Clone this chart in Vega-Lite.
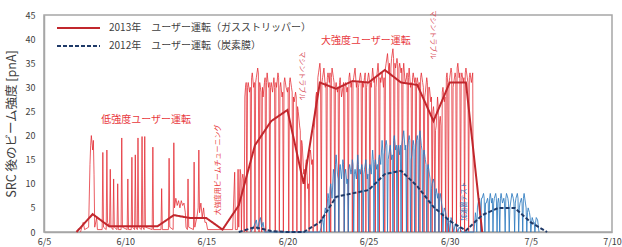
{
"$schema": "https://vega.github.io/schema/vega-lite/v6.json",
"width": 568, "height": 217,
"autosize": "none",
"padding": {"left": 44, "top": 15, "right": 10, "bottom": 15},
"config": {"font": "Noto Sans CJK JP", "view": {"stroke": "#a6a6a6", "strokeWidth": 1.5}},
"datasets": {
"raw13": [
{"t":"2013-06-07T06:00","v":0},{"t":"2013-06-07T10:00","v":2},{"t":"2013-06-07T12:00","v":0.5},{"t":"2013-06-07T18:00","v":1},{"t":"2013-06-07T20:00","v":14},{"t":"2013-06-07T21:00","v":18},{"t":"2013-06-07T22:00","v":20},{"t":"2013-06-08T00:00","v":17},{"t":"2013-06-08T01:00","v":19},{"t":"2013-06-08T02:00","v":12},{"t":"2013-06-08T03:00","v":1},{"t":"2013-06-08T06:00","v":3},{"t":"2013-06-08T07:00","v":0.5},{"t":"2013-06-08T14:00","v":0.5},{"t":"2013-06-08T15:00","v":16.5},{"t":"2013-06-08T16:00","v":1},{"t":"2013-06-08T20:00","v":0.5},{"t":"2013-06-08T21:00","v":17},{"t":"2013-06-08T22:00","v":2},{"t":"2013-06-09T01:00","v":1},{"t":"2013-06-09T02:00","v":13},{"t":"2013-06-09T03:00","v":1},{"t":"2013-06-09T06:00","v":0.5},{"t":"2013-06-09T07:00","v":11},{"t":"2013-06-09T08:00","v":1},{"t":"2013-06-09T12:00","v":0.5},{"t":"2013-06-09T13:00","v":10},{"t":"2013-06-09T14:00","v":0.5},{"t":"2013-06-09T18:00","v":0.5},{"t":"2013-06-09T19:00","v":19.5},{"t":"2013-06-09T20:00","v":1},{"t":"2013-06-10T03:00","v":0.5},{"t":"2013-06-10T04:00","v":11},{"t":"2013-06-10T05:00","v":0.5},{"t":"2013-06-10T09:00","v":0.5},{"t":"2013-06-10T10:00","v":15.5},{"t":"2013-06-10T11:00","v":1},{"t":"2013-06-10T14:00","v":0.5},{"t":"2013-06-10T15:00","v":16},{"t":"2013-06-10T16:00","v":1},{"t":"2013-06-10T18:00","v":0.5},{"t":"2013-06-10T19:00","v":19.5},{"t":"2013-06-10T20:00","v":1},{"t":"2013-06-11T00:00","v":0.5},{"t":"2013-06-11T01:00","v":19.8},{"t":"2013-06-11T02:00","v":1},{"t":"2013-06-11T04:00","v":0.5},{"t":"2013-06-11T05:00","v":19.8},{"t":"2013-06-11T06:00","v":1},{"t":"2013-06-11T16:00","v":0.5},{"t":"2013-06-11T17:00","v":17.6},{"t":"2013-06-11T18:00","v":0.5},{"t":"2013-06-12T05:00","v":0.5},{"t":"2013-06-12T06:00","v":9},{"t":"2013-06-12T07:00","v":0.5},{"t":"2013-06-12T16:00","v":0.5},{"t":"2013-06-12T17:00","v":15.3},{"t":"2013-06-12T18:00","v":1},{"t":"2013-06-12T23:00","v":0.5},{"t":"2013-06-13T00:00","v":18.5},{"t":"2013-06-13T01:00","v":5},{"t":"2013-06-13T03:00","v":7},{"t":"2013-06-13T05:00","v":5.5},{"t":"2013-06-13T07:00","v":6.5},{"t":"2013-06-13T09:00","v":5},{"t":"2013-06-13T11:00","v":6.5},{"t":"2013-06-13T13:00","v":5.5},{"t":"2013-06-13T15:00","v":6},{"t":"2013-06-13T17:00","v":4},{"t":"2013-06-13T18:00","v":1},{"t":"2013-06-13T20:00","v":0.5},{"t":"2013-06-13T21:00","v":11},{"t":"2013-06-13T22:00","v":1},{"t":"2013-06-14T05:00","v":0.5},{"t":"2013-06-14T06:00","v":14.5},{"t":"2013-06-14T07:00","v":1},{"t":"2013-06-14T10:00","v":3},{"t":"2013-06-14T12:00","v":5},{"t":"2013-06-14T13:00","v":17},{"t":"2013-06-14T14:00","v":4},{"t":"2013-06-14T16:00","v":6},{"t":"2013-06-14T18:00","v":3},{"t":"2013-06-14T20:00","v":5},{"t":"2013-06-14T22:00","v":2},{"t":"2013-06-15T00:00","v":2},{"t":"2013-06-15T02:00","v":0.5},{"t":"2013-06-16T15:00","v":0.5},{"t":"2013-06-16T18:00","v":12.4},{"t":"2013-06-16T19:00","v":0.5},{"t":"2013-06-16T22:00","v":0.5},{"t":"2013-06-16T23:00","v":13},{"t":"2013-06-17T00:00","v":1},
{"t":"2013-06-17T02:00","v":13},{"t":"2013-06-17T03:00","v":12},{"t":"2013-06-17T04:00","v":0},{"t":"2013-06-17T05:00","v":11},{"t":"2013-06-17T06:00","v":12},{"t":"2013-06-17T07:00","v":11},{"t":"2013-06-17T08:00","v":0},{"t":"2013-06-17T09:00","v":28},{"t":"2013-06-17T10:00","v":30},{"t":"2013-06-17T11:00","v":31},{"t":"2013-06-17T12:00","v":0},{"t":"2013-06-17T13:00","v":30},{"t":"2013-06-17T14:00","v":31},{"t":"2013-06-17T16:00","v":29},{"t":"2013-06-17T17:00","v":30},{"t":"2013-06-17T18:00","v":0},{"t":"2013-06-17T19:00","v":32},{"t":"2013-06-17T20:00","v":33},{"t":"2013-06-17T22:00","v":30},{"t":"2013-06-17T23:00","v":31},
{"t":"2013-06-18T00:00","v":0},{"t":"2013-06-18T01:00","v":31},{"t":"2013-06-18T02:00","v":32},{"t":"2013-06-18T04:00","v":34},{"t":"2013-06-18T05:00","v":33},{"t":"2013-06-18T06:00","v":0},{"t":"2013-06-18T07:00","v":31},{"t":"2013-06-18T08:00","v":30},{"t":"2013-06-18T09:00","v":29},{"t":"2013-06-18T10:00","v":0},{"t":"2013-06-18T11:00","v":30},{"t":"2013-06-18T12:00","v":28},{"t":"2013-06-18T14:00","v":31},{"t":"2013-06-18T15:00","v":32},{"t":"2013-06-18T16:00","v":0},{"t":"2013-06-18T17:00","v":31},{"t":"2013-06-18T18:00","v":33},{"t":"2013-06-18T20:00","v":30},{"t":"2013-06-18T21:00","v":31},{"t":"2013-06-18T22:00","v":0},{"t":"2013-06-18T23:00","v":30},
{"t":"2013-06-19T00:00","v":31},{"t":"2013-06-19T02:00","v":29},{"t":"2013-06-19T04:00","v":32},{"t":"2013-06-19T05:00","v":30},{"t":"2013-06-19T06:00","v":0},{"t":"2013-06-19T07:00","v":31},{"t":"2013-06-19T08:00","v":30},{"t":"2013-06-19T10:00","v":33},{"t":"2013-06-19T11:00","v":32},{"t":"2013-06-19T12:00","v":0},{"t":"2013-06-19T13:00","v":30},{"t":"2013-06-19T14:00","v":31},{"t":"2013-06-19T16:00","v":28},{"t":"2013-06-19T17:00","v":29},{"t":"2013-06-19T18:00","v":0},{"t":"2013-06-19T19:00","v":31},{"t":"2013-06-19T20:00","v":32},{"t":"2013-06-19T22:00","v":30},
{"t":"2013-06-20T00:00","v":29},{"t":"2013-06-20T01:00","v":30},{"t":"2013-06-20T02:00","v":0},{"t":"2013-06-20T03:00","v":31},{"t":"2013-06-20T04:00","v":32},{"t":"2013-06-20T06:00","v":30},{"t":"2013-06-20T07:00","v":29},{"t":"2013-06-20T08:00","v":0},{"t":"2013-06-20T09:00","v":28},{"t":"2013-06-20T10:00","v":27},{"t":"2013-06-20T12:00","v":29},{"t":"2013-06-20T13:00","v":28},{"t":"2013-06-20T14:00","v":0},{"t":"2013-06-20T15:00","v":26},{"t":"2013-06-20T16:00","v":25},{"t":"2013-06-20T18:00","v":22},{"t":"2013-06-20T19:00","v":21},{"t":"2013-06-20T20:00","v":0},{"t":"2013-06-20T21:00","v":19},{"t":"2013-06-20T22:00","v":18},
{"t":"2013-06-21T00:00","v":12},{"t":"2013-06-21T01:00","v":13},{"t":"2013-06-21T02:00","v":0},{"t":"2013-06-21T03:00","v":14},{"t":"2013-06-21T04:00","v":15},{"t":"2013-06-21T06:00","v":9},{"t":"2013-06-21T07:00","v":10},{"t":"2013-06-21T08:00","v":0},{"t":"2013-06-21T09:00","v":16},{"t":"2013-06-21T10:00","v":17},{"t":"2013-06-21T12:00","v":14},{"t":"2013-06-21T13:00","v":15},{"t":"2013-06-21T14:00","v":0},{"t":"2013-06-21T15:00","v":21},{"t":"2013-06-21T16:00","v":22},{"t":"2013-06-21T18:00","v":28},{"t":"2013-06-21T19:00","v":29},{"t":"2013-06-21T20:00","v":0},{"t":"2013-06-21T21:00","v":32},{"t":"2013-06-21T22:00","v":33},
{"t":"2013-06-22T00:00","v":35},{"t":"2013-06-22T01:00","v":33},{"t":"2013-06-22T02:00","v":0},{"t":"2013-06-22T03:00","v":31},{"t":"2013-06-22T04:00","v":32},{"t":"2013-06-22T06:00","v":34},{"t":"2013-06-22T08:00","v":30},{"t":"2013-06-22T09:00","v":31},{"t":"2013-06-22T10:00","v":0},{"t":"2013-06-22T11:00","v":32},{"t":"2013-06-22T12:00","v":33},{"t":"2013-06-22T14:00","v":31},{"t":"2013-06-22T15:00","v":33},{"t":"2013-06-22T16:00","v":0},{"t":"2013-06-22T17:00","v":32},{"t":"2013-06-22T18:00","v":34},{"t":"2013-06-22T20:00","v":32},{"t":"2013-06-22T21:00","v":31},{"t":"2013-06-22T22:00","v":0},{"t":"2013-06-22T23:00","v":30},
{"t":"2013-06-23T00:00","v":31},{"t":"2013-06-23T02:00","v":29},{"t":"2013-06-23T03:00","v":30},{"t":"2013-06-23T04:00","v":0},{"t":"2013-06-23T05:00","v":31},{"t":"2013-06-23T06:00","v":32},{"t":"2013-06-23T08:00","v":28},{"t":"2013-06-23T10:00","v":30},{"t":"2013-06-23T11:00","v":31},{"t":"2013-06-23T12:00","v":0},{"t":"2013-06-23T13:00","v":30},{"t":"2013-06-23T14:00","v":31},{"t":"2013-06-23T16:00","v":29},{"t":"2013-06-23T17:00","v":30},{"t":"2013-06-23T18:00","v":0},{"t":"2013-06-23T19:00","v":32},{"t":"2013-06-23T20:00","v":33},{"t":"2013-06-23T22:00","v":30},{"t":"2013-06-23T23:00","v":31},
{"t":"2013-06-24T00:00","v":0},{"t":"2013-06-24T01:00","v":31},{"t":"2013-06-24T02:00","v":32},{"t":"2013-06-24T04:00","v":34},{"t":"2013-06-24T06:00","v":30},{"t":"2013-06-24T07:00","v":31},{"t":"2013-06-24T08:00","v":0},{"t":"2013-06-24T09:00","v":30},{"t":"2013-06-24T10:00","v":31},{"t":"2013-06-24T12:00","v":33},{"t":"2013-06-24T13:00","v":32},{"t":"2013-06-24T14:00","v":0},{"t":"2013-06-24T15:00","v":31},{"t":"2013-06-24T16:00","v":30},{"t":"2013-06-24T18:00","v":32},{"t":"2013-06-24T19:00","v":33},{"t":"2013-06-24T20:00","v":0},{"t":"2013-06-24T21:00","v":30},{"t":"2013-06-24T22:00","v":31},
{"t":"2013-06-25T00:00","v":33},{"t":"2013-06-25T01:00","v":32},{"t":"2013-06-25T02:00","v":0},{"t":"2013-06-25T03:00","v":31},{"t":"2013-06-25T04:00","v":30},{"t":"2013-06-25T06:00","v":34},{"t":"2013-06-25T08:00","v":31},{"t":"2013-06-25T09:00","v":32},{"t":"2013-06-25T10:00","v":0},{"t":"2013-06-25T11:00","v":30},{"t":"2013-06-25T12:00","v":32},{"t":"2013-06-25T14:00","v":35},{"t":"2013-06-25T15:00","v":33},{"t":"2013-06-25T16:00","v":0},{"t":"2013-06-25T17:00","v":32},{"t":"2013-06-25T18:00","v":31},{"t":"2013-06-25T20:00","v":33},{"t":"2013-06-25T22:00","v":30},{"t":"2013-06-25T23:00","v":32},
{"t":"2013-06-26T00:00","v":0},{"t":"2013-06-26T01:00","v":34},{"t":"2013-06-26T02:00","v":35},{"t":"2013-06-26T04:00","v":37},{"t":"2013-06-26T06:00","v":33},{"t":"2013-06-26T07:00","v":35},{"t":"2013-06-26T08:00","v":0},{"t":"2013-06-26T09:00","v":34},{"t":"2013-06-26T10:00","v":36},{"t":"2013-06-26T12:00","v":38},{"t":"2013-06-26T13:00","v":36},{"t":"2013-06-26T14:00","v":0},{"t":"2013-06-26T15:00","v":35},{"t":"2013-06-26T16:00","v":34},{"t":"2013-06-26T18:00","v":36},{"t":"2013-06-26T19:00","v":35},{"t":"2013-06-26T20:00","v":0},{"t":"2013-06-26T21:00","v":34},{"t":"2013-06-26T22:00","v":35},
{"t":"2013-06-27T00:00","v":33},{"t":"2013-06-27T01:00","v":34},{"t":"2013-06-27T02:00","v":0},{"t":"2013-06-27T03:00","v":33},{"t":"2013-06-27T04:00","v":35},{"t":"2013-06-27T06:00","v":31},{"t":"2013-06-27T08:00","v":32},{"t":"2013-06-27T09:00","v":33},{"t":"2013-06-27T10:00","v":0},{"t":"2013-06-27T11:00","v":32},{"t":"2013-06-27T12:00","v":34},{"t":"2013-06-27T14:00","v":30},{"t":"2013-06-27T15:00","v":31},{"t":"2013-06-27T16:00","v":0},{"t":"2013-06-27T17:00","v":32},{"t":"2013-06-27T18:00","v":33},{"t":"2013-06-27T20:00","v":31},{"t":"2013-06-27T21:00","v":32},{"t":"2013-06-27T22:00","v":0},{"t":"2013-06-27T23:00","v":31},
{"t":"2013-06-28T00:00","v":32},{"t":"2013-06-28T02:00","v":30},{"t":"2013-06-28T03:00","v":31},{"t":"2013-06-28T04:00","v":0},{"t":"2013-06-28T05:00","v":32},{"t":"2013-06-28T06:00","v":33},{"t":"2013-06-28T08:00","v":31},{"t":"2013-06-28T09:00","v":30},{"t":"2013-06-28T10:00","v":0},{"t":"2013-06-28T11:00","v":28},{"t":"2013-06-28T12:00","v":29},{"t":"2013-06-28T14:00","v":32},{"t":"2013-06-28T15:00","v":31},{"t":"2013-06-28T16:00","v":0},{"t":"2013-06-28T17:00","v":30},{"t":"2013-06-28T18:00","v":30},{"t":"2013-06-28T20:00","v":27},{"t":"2013-06-28T21:00","v":28},{"t":"2013-06-28T22:00","v":0},{"t":"2013-06-28T23:00","v":25},
{"t":"2013-06-29T00:00","v":26},{"t":"2013-06-29T01:00","v":24},{"t":"2013-06-29T02:00","v":0},{"t":"2013-06-29T03:00","v":21},{"t":"2013-06-29T04:00","v":22},{"t":"2013-06-29T06:00","v":28},{"t":"2013-06-29T07:00","v":26},{"t":"2013-06-29T08:00","v":0},{"t":"2013-06-29T09:00","v":23},{"t":"2013-06-29T10:00","v":24},{"t":"2013-06-29T11:00","v":22},{"t":"2013-06-29T12:00","v":0},{"t":"2013-06-29T13:00","v":29},{"t":"2013-06-29T14:00","v":30},{"t":"2013-06-29T16:00","v":27},{"t":"2013-06-29T17:00","v":28},{"t":"2013-06-29T18:00","v":0},{"t":"2013-06-29T19:00","v":32},{"t":"2013-06-29T20:00","v":33},{"t":"2013-06-29T21:00","v":31},{"t":"2013-06-29T22:00","v":0},{"t":"2013-06-29T23:00","v":31},
{"t":"2013-06-30T00:00","v":32},{"t":"2013-06-30T02:00","v":34},{"t":"2013-06-30T03:00","v":33},{"t":"2013-06-30T04:00","v":0},{"t":"2013-06-30T05:00","v":30},{"t":"2013-06-30T06:00","v":31},{"t":"2013-06-30T08:00","v":33},{"t":"2013-06-30T09:00","v":32},{"t":"2013-06-30T10:00","v":0},{"t":"2013-06-30T11:00","v":34},{"t":"2013-06-30T12:00","v":35},{"t":"2013-06-30T14:00","v":32},{"t":"2013-06-30T15:00","v":33},{"t":"2013-06-30T16:00","v":0},{"t":"2013-06-30T17:00","v":32},{"t":"2013-06-30T18:00","v":33},{"t":"2013-06-30T20:00","v":31},{"t":"2013-06-30T21:00","v":32},{"t":"2013-06-30T22:00","v":0},{"t":"2013-06-30T23:00","v":33},
{"t":"2013-07-01T00:00","v":34},{"t":"2013-07-01T02:00","v":32},{"t":"2013-07-01T03:00","v":31},{"t":"2013-07-01T04:00","v":0},{"t":"2013-07-01T05:00","v":32},{"t":"2013-07-01T06:00","v":33},{"t":"2013-07-01T08:00","v":31},{"t":"2013-07-01T10:00","v":33},{"t":"2013-07-01T11:00","v":0}
],
"raw12": [
{"t":"2013-06-17T18:00","v":0},{"t":"2013-06-17T22:00","v":1},{"t":"2013-06-18T02:00","v":2.5},{"t":"2013-06-18T04:00","v":0.5},{"t":"2013-06-18T06:00","v":2},{"t":"2013-06-18T08:00","v":3},{"t":"2013-06-18T10:00","v":1},{"t":"2013-06-18T12:00","v":2},{"t":"2013-06-18T14:00","v":0},{"t":"2013-06-22T00:00","v":0},
{"t":"2013-06-22T02:00","v":1},{"t":"2013-06-22T04:00","v":3},{"t":"2013-06-22T05:00","v":2},{"t":"2013-06-22T06:00","v":0},{"t":"2013-06-22T07:00","v":4},{"t":"2013-06-22T08:00","v":5},{"t":"2013-06-22T10:00","v":4},{"t":"2013-06-22T12:00","v":8},{"t":"2013-06-22T13:00","v":7},{"t":"2013-06-22T14:00","v":0},{"t":"2013-06-22T15:00","v":9},{"t":"2013-06-22T16:00","v":10},{"t":"2013-06-22T18:00","v":7},{"t":"2013-06-22T20:00","v":13},{"t":"2013-06-22T21:00","v":12},{"t":"2013-06-22T22:00","v":0},{"t":"2013-06-22T23:00","v":14},
{"t":"2013-06-23T00:00","v":16},{"t":"2013-06-23T02:00","v":12},{"t":"2013-06-23T03:00","v":11},{"t":"2013-06-23T04:00","v":0},{"t":"2013-06-23T05:00","v":13},{"t":"2013-06-23T06:00","v":14},{"t":"2013-06-23T08:00","v":11},{"t":"2013-06-23T10:00","v":15},{"t":"2013-06-23T11:00","v":14},{"t":"2013-06-23T12:00","v":0},{"t":"2013-06-23T13:00","v":12},{"t":"2013-06-23T14:00","v":13},{"t":"2013-06-23T16:00","v":10},{"t":"2013-06-23T17:00","v":11},{"t":"2013-06-23T18:00","v":0},{"t":"2013-06-23T19:00","v":13},{"t":"2013-06-23T20:00","v":14},{"t":"2013-06-23T22:00","v":12},{"t":"2013-06-23T23:00","v":13},
{"t":"2013-06-24T00:00","v":15},{"t":"2013-06-24T01:00","v":14},{"t":"2013-06-24T02:00","v":0},{"t":"2013-06-24T03:00","v":12},{"t":"2013-06-24T04:00","v":13},{"t":"2013-06-24T06:00","v":11},{"t":"2013-06-24T08:00","v":16},{"t":"2013-06-24T09:00","v":14},{"t":"2013-06-24T10:00","v":0},{"t":"2013-06-24T11:00","v":13},{"t":"2013-06-24T12:00","v":12},{"t":"2013-06-24T14:00","v":14},{"t":"2013-06-24T15:00","v":13},{"t":"2013-06-24T16:00","v":0},{"t":"2013-06-24T17:00","v":12},{"t":"2013-06-24T18:00","v":13},{"t":"2013-06-24T20:00","v":15},{"t":"2013-06-24T22:00","v":11},{"t":"2013-06-24T23:00","v":12},
{"t":"2013-06-25T00:00","v":0},{"t":"2013-06-25T01:00","v":13},{"t":"2013-06-25T02:00","v":14},{"t":"2013-06-25T04:00","v":12},{"t":"2013-06-25T06:00","v":17},{"t":"2013-06-25T07:00","v":15},{"t":"2013-06-25T08:00","v":0},{"t":"2013-06-25T09:00","v":14},{"t":"2013-06-25T10:00","v":15},{"t":"2013-06-25T12:00","v":13},{"t":"2013-06-25T13:00","v":14},{"t":"2013-06-25T14:00","v":0},{"t":"2013-06-25T15:00","v":15},{"t":"2013-06-25T16:00","v":16},{"t":"2013-06-25T18:00","v":14},{"t":"2013-06-25T20:00","v":19},{"t":"2013-06-25T21:00","v":17},{"t":"2013-06-25T22:00","v":0},{"t":"2013-06-25T23:00","v":16},
{"t":"2013-06-26T00:00","v":17},{"t":"2013-06-26T02:00","v":19},{"t":"2013-06-26T03:00","v":18},{"t":"2013-06-26T04:00","v":0},{"t":"2013-06-26T05:00","v":15},{"t":"2013-06-26T06:00","v":16},{"t":"2013-06-26T08:00","v":18},{"t":"2013-06-26T10:00","v":15},{"t":"2013-06-26T11:00","v":16},{"t":"2013-06-26T12:00","v":0},{"t":"2013-06-26T13:00","v":19},{"t":"2013-06-26T14:00","v":20},{"t":"2013-06-26T16:00","v":17},{"t":"2013-06-26T17:00","v":18},{"t":"2013-06-26T18:00","v":0},{"t":"2013-06-26T19:00","v":17},{"t":"2013-06-26T20:00","v":18},{"t":"2013-06-26T22:00","v":16},{"t":"2013-06-26T23:00","v":18},
{"t":"2013-06-27T00:00","v":0},{"t":"2013-06-27T01:00","v":18},{"t":"2013-06-27T02:00","v":19},{"t":"2013-06-27T04:00","v":21},{"t":"2013-06-27T06:00","v":17},{"t":"2013-06-27T07:00","v":18},{"t":"2013-06-27T08:00","v":0},{"t":"2013-06-27T09:00","v":17},{"t":"2013-06-27T10:00","v":18},{"t":"2013-06-27T12:00","v":20},{"t":"2013-06-27T13:00","v":19},{"t":"2013-06-27T14:00","v":0},{"t":"2013-06-27T15:00","v":15},{"t":"2013-06-27T16:00","v":16},{"t":"2013-06-27T18:00","v":19},{"t":"2013-06-27T19:00","v":18},{"t":"2013-06-27T20:00","v":0},{"t":"2013-06-27T21:00","v":17},{"t":"2013-06-27T22:00","v":18},
{"t":"2013-06-28T00:00","v":20},{"t":"2013-06-28T01:00","v":19},{"t":"2013-06-28T02:00","v":0},{"t":"2013-06-28T03:00","v":20},{"t":"2013-06-28T04:00","v":21},{"t":"2013-06-28T06:00","v":18},{"t":"2013-06-28T07:00","v":17},{"t":"2013-06-28T08:00","v":0},{"t":"2013-06-28T09:00","v":16},{"t":"2013-06-28T10:00","v":17},{"t":"2013-06-28T12:00","v":15},{"t":"2013-06-28T13:00","v":14},{"t":"2013-06-28T14:00","v":0},{"t":"2013-06-28T15:00","v":13},{"t":"2013-06-28T16:00","v":14},{"t":"2013-06-28T18:00","v":12},{"t":"2013-06-28T19:00","v":11},{"t":"2013-06-28T20:00","v":0},{"t":"2013-06-28T21:00","v":9},{"t":"2013-06-28T22:00","v":10},
{"t":"2013-06-29T00:00","v":11},{"t":"2013-06-29T01:00","v":10},{"t":"2013-06-29T02:00","v":0},{"t":"2013-06-29T03:00","v":8},{"t":"2013-06-29T04:00","v":9},{"t":"2013-06-29T06:00","v":7},{"t":"2013-06-29T07:00","v":8},{"t":"2013-06-29T08:00","v":0},{"t":"2013-06-29T09:00","v":7},{"t":"2013-06-29T10:00","v":8},{"t":"2013-06-29T12:00","v":6},{"t":"2013-06-29T13:00","v":5},{"t":"2013-06-29T14:00","v":0},{"t":"2013-06-29T15:00","v":4},{"t":"2013-06-29T16:00","v":5},{"t":"2013-06-29T18:00","v":4},{"t":"2013-06-29T19:00","v":3},{"t":"2013-06-29T20:00","v":0},{"t":"2013-06-29T21:00","v":2},{"t":"2013-06-29T22:00","v":3},
{"t":"2013-06-30T00:00","v":0},{"t":"2013-06-30T02:00","v":3},{"t":"2013-06-30T04:00","v":2},{"t":"2013-06-30T06:00","v":0},{"t":"2013-06-30T08:00","v":1.5},{"t":"2013-06-30T10:00","v":1},{"t":"2013-06-30T12:00","v":0},{"t":"2013-06-30T14:00","v":1},{"t":"2013-06-30T16:00","v":0.5},{"t":"2013-06-30T18:00","v":0},
{"t":"2013-07-01T12:00","v":0},{"t":"2013-07-01T14:00","v":4},{"t":"2013-07-01T15:00","v":3},{"t":"2013-07-01T16:00","v":0},{"t":"2013-07-01T17:00","v":5},{"t":"2013-07-01T18:00","v":6},{"t":"2013-07-01T20:00","v":7},{"t":"2013-07-01T21:00","v":6},{"t":"2013-07-01T22:00","v":0},{"t":"2013-07-01T23:00","v":7},
{"t":"2013-07-02T00:00","v":7},{"t":"2013-07-02T02:00","v":8},{"t":"2013-07-02T03:00","v":7},{"t":"2013-07-02T04:00","v":0},{"t":"2013-07-02T05:00","v":6},{"t":"2013-07-02T06:00","v":6},{"t":"2013-07-02T08:00","v":7},{"t":"2013-07-02T09:00","v":6},{"t":"2013-07-02T10:00","v":0},{"t":"2013-07-02T11:00","v":7},{"t":"2013-07-02T12:00","v":8},{"t":"2013-07-02T14:00","v":6},{"t":"2013-07-02T15:00","v":7},{"t":"2013-07-02T16:00","v":0},{"t":"2013-07-02T17:00","v":6},{"t":"2013-07-02T18:00","v":7},{"t":"2013-07-02T20:00","v":8},{"t":"2013-07-02T21:00","v":7},{"t":"2013-07-02T22:00","v":0},{"t":"2013-07-02T23:00","v":6},
{"t":"2013-07-03T00:00","v":7},{"t":"2013-07-03T01:00","v":6},{"t":"2013-07-03T02:00","v":0},{"t":"2013-07-03T03:00","v":7},{"t":"2013-07-03T04:00","v":8},{"t":"2013-07-03T06:00","v":6},{"t":"2013-07-03T08:00","v":7},{"t":"2013-07-03T09:00","v":6},{"t":"2013-07-03T10:00","v":0},{"t":"2013-07-03T11:00","v":7},{"t":"2013-07-03T12:00","v":8},{"t":"2013-07-03T14:00","v":7},{"t":"2013-07-03T15:00","v":6},{"t":"2013-07-03T16:00","v":0},{"t":"2013-07-03T17:00","v":5},{"t":"2013-07-03T18:00","v":6},{"t":"2013-07-03T20:00","v":8},{"t":"2013-07-03T22:00","v":7},{"t":"2013-07-03T23:00","v":6},
{"t":"2013-07-04T00:00","v":0},{"t":"2013-07-04T01:00","v":6},{"t":"2013-07-04T02:00","v":7},{"t":"2013-07-04T04:00","v":8},{"t":"2013-07-04T05:00","v":7},{"t":"2013-07-04T06:00","v":0},{"t":"2013-07-04T07:00","v":5},{"t":"2013-07-04T08:00","v":6},{"t":"2013-07-04T10:00","v":7},{"t":"2013-07-04T11:00","v":6},{"t":"2013-07-04T12:00","v":0},{"t":"2013-07-04T13:00","v":7},{"t":"2013-07-04T14:00","v":8},{"t":"2013-07-04T16:00","v":6},{"t":"2013-07-04T17:00","v":5},{"t":"2013-07-04T18:00","v":0},{"t":"2013-07-04T19:00","v":4},{"t":"2013-07-04T20:00","v":5},{"t":"2013-07-04T22:00","v":4},{"t":"2013-07-04T23:00","v":3},
{"t":"2013-07-05T00:00","v":0},{"t":"2013-07-05T01:00","v":2},{"t":"2013-07-05T02:00","v":3},{"t":"2013-07-05T04:00","v":2},{"t":"2013-07-05T05:00","v":2},{"t":"2013-07-05T06:00","v":0},{"t":"2013-07-05T07:00","v":2},{"t":"2013-07-05T08:00","v":3},{"t":"2013-07-05T10:00","v":2.5},{"t":"2013-07-05T12:00","v":0}
],
"avg": [
{"s":"2013年　ユーザー運転（ガスストリッパー）","t":"2013-06-07T00:00","v":0},
{"s":"2013年　ユーザー運転（ガスストリッパー）","t":"2013-06-08T00:00","v":3.7},
{"s":"2013年　ユーザー運転（ガスストリッパー）","t":"2013-06-09T00:00","v":1.2},
{"s":"2013年　ユーザー運転（ガスストリッパー）","t":"2013-06-10T00:00","v":1.2},
{"s":"2013年　ユーザー運転（ガスストリッパー）","t":"2013-06-11T00:00","v":1.2},
{"s":"2013年　ユーザー運転（ガスストリッパー）","t":"2013-06-12T00:00","v":1.2},
{"s":"2013年　ユーザー運転（ガスストリッパー）","t":"2013-06-13T00:00","v":3.5},
{"s":"2013年　ユーザー運転（ガスストリッパー）","t":"2013-06-14T00:00","v":2.9},
{"s":"2013年　ユーザー運転（ガスストリッパー）","t":"2013-06-15T00:00","v":2.9},
{"s":"2013年　ユーザー運転（ガスストリッパー）","t":"2013-06-16T00:00","v":0.5},
{"s":"2013年　ユーザー運転（ガスストリッパー）","t":"2013-06-17T00:00","v":5.5},
{"s":"2013年　ユーザー運転（ガスストリッパー）","t":"2013-06-18T00:00","v":18},
{"s":"2013年　ユーザー運転（ガスストリッパー）","t":"2013-06-19T00:00","v":23},
{"s":"2013年　ユーザー運転（ガスストリッパー）","t":"2013-06-20T00:00","v":25.3},
{"s":"2013年　ユーザー運転（ガスストリッパー）","t":"2013-06-21T00:00","v":10},
{"s":"2013年　ユーザー運転（ガスストリッパー）","t":"2013-06-22T00:00","v":31},
{"s":"2013年　ユーザー運転（ガスストリッパー）","t":"2013-06-23T00:00","v":29.7},
{"s":"2013年　ユーザー運転（ガスストリッパー）","t":"2013-06-24T00:00","v":31.3},
{"s":"2013年　ユーザー運転（ガスストリッパー）","t":"2013-06-25T00:00","v":31},
{"s":"2013年　ユーザー運転（ガスストリッパー）","t":"2013-06-26T00:00","v":33.6},
{"s":"2013年　ユーザー運転（ガスストリッパー）","t":"2013-06-27T00:00","v":31},
{"s":"2013年　ユーザー運転（ガスストリッパー）","t":"2013-06-28T00:00","v":30.5},
{"s":"2013年　ユーザー運転（ガスストリッパー）","t":"2013-06-29T00:00","v":23},
{"s":"2013年　ユーザー運転（ガスストリッパー）","t":"2013-06-30T00:00","v":31},
{"s":"2013年　ユーザー運転（ガスストリッパー）","t":"2013-07-01T00:00","v":31},
{"s":"2013年　ユーザー運転（ガスストリッパー）","t":"2013-07-02T00:00","v":0},
{"s":"2012年　ユーザー運転（炭素膜）","t":"2013-06-17T00:00","v":0},
{"s":"2012年　ユーザー運転（炭素膜）","t":"2013-06-18T00:00","v":1},
{"s":"2012年　ユーザー運転（炭素膜）","t":"2013-06-19T00:00","v":0.2},
{"s":"2012年　ユーザー運転（炭素膜）","t":"2013-06-20T00:00","v":0},
{"s":"2012年　ユーザー運転（炭素膜）","t":"2013-06-21T00:00","v":0},
{"s":"2012年　ユーザー運転（炭素膜）","t":"2013-06-22T00:00","v":2},
{"s":"2012年　ユーザー運転（炭素膜）","t":"2013-06-23T00:00","v":7.3},
{"s":"2012年　ユーザー運転（炭素膜）","t":"2013-06-24T00:00","v":8},
{"s":"2012年　ユーザー運転（炭素膜）","t":"2013-06-25T00:00","v":8.7},
{"s":"2012年　ユーザー運転（炭素膜）","t":"2013-06-26T00:00","v":12},
{"s":"2012年　ユーザー運転（炭素膜）","t":"2013-06-27T00:00","v":12.7},
{"s":"2012年　ユーザー運転（炭素膜）","t":"2013-06-28T00:00","v":9.5},
{"s":"2012年　ユーザー運転（炭素膜）","t":"2013-06-29T00:00","v":5.2},
{"s":"2012年　ユーザー運転（炭素膜）","t":"2013-06-30T00:00","v":2.3},
{"s":"2012年　ユーザー運転（炭素膜）","t":"2013-07-01T00:00","v":0.3},
{"s":"2012年　ユーザー運転（炭素膜）","t":"2013-07-02T00:00","v":3.5},
{"s":"2012年　ユーザー運転（炭素膜）","t":"2013-07-03T00:00","v":5},
{"s":"2012年　ユーザー運転（炭素膜）","t":"2013-07-04T00:00","v":5},
{"s":"2012年　ユーザー運転（炭素膜）","t":"2013-07-05T00:00","v":2},
{"s":"2012年　ユーザー運転（炭素膜）","t":"2013-07-06T00:00","v":0}
],
"labH": [
{"label":"低強度ユーザー運転","t":"2013-06-11T07:00","v":23.2},
{"label":"大強度ユーザー運転","t":"2013-06-24T20:00","v":39.6}
],
"labTune": [
{"label":"大強度用ビームチューニング","t":"2013-06-15T17:00","v":12.9}
],
"labTrouble": [
{"label":"マシントラブル","t":"2013-06-20T22:00","v":32.4},
{"label":"マシントラブル","t":"2013-06-28T23:00","v":40.9}
],
"labTest": [
{"label":"加速器テスト","t":"2013-06-30T21:00","v":6.4}
]
},
"encoding": {
"x": {"field": "t", "type": "temporal",
 "scale": {"domain": [{"year": 2013, "month": 6, "date": 5}, {"year": 2013, "month": 7, "date": 10}]},
 "axis": {"title": null, "grid": false, "ticks": false, "format": "%-m/%-d", "labelFontSize": 9, "labelColor": "#404040", "domainColor": "#a6a6a6", "domainWidth": 1.5, "labelPadding": 5, "labelFlush": false,
  "values": [{"year":2013,"month":6,"date":5},{"year":2013,"month":6,"date":10},{"year":2013,"month":6,"date":15},{"year":2013,"month":6,"date":20},{"year":2013,"month":6,"date":25},{"year":2013,"month":6,"date":30},{"year":2013,"month":7,"date":5},{"year":2013,"month":7,"date":10}]}},
"y": {"field": "v", "type": "quantitative",
 "scale": {"domain": [0, 45], "nice": false},
 "axis": {"title": "SRC 後のビーム強度 [pnA]", "titleFontSize": 12.5, "titleFontWeight": "normal", "titleColor": "#404040", "titlePadding": 7, "grid": false, "ticks": false, "values": [0,5,10,15,20,25,30,35,40,45], "labelFontSize": 9, "labelColor": "#404040", "domainColor": "#a6a6a6", "domainWidth": 1.5, "labelPadding": 9}}
},
"layer": [
{"data": {"name": "raw13"}, "mark": {"type": "line", "color": "#e3262d", "strokeWidth": 1, "opacity": 0.75}},
{"data": {"name": "raw12"}, "mark": {"type": "line", "color": "#2f7bbf", "strokeWidth": 1, "opacity": 0.85}},
{"data": {"name": "avg"}, "mark": {"type": "line", "strokeWidth": 2},
 "encoding": {
  "color": {"field": "s", "type": "nominal", "scale": {"domain": ["2013年　ユーザー運転（ガスストリッパー）", "2012年　ユーザー運転（炭素膜）"], "range": ["#c1272d", "#1f3a68"]},
   "legend": {"orient": "none", "legendX": 12, "legendY": 4, "title": null, "symbolType": "stroke", "symbolSize": 1849, "symbolStrokeWidth": 2, "clipHeight": 18, "labelFontSize": 10, "labelColor": "#404040", "labelOffset": 8, "labelLimit": 0, "rowPadding": 0}},
  "strokeDash": {"field": "s", "type": "nominal", "scale": {"domain": ["2013年　ユーザー運転（ガスストリッパー）", "2012年　ユーザー運転（炭素膜）"], "range": [[1, 0], [4, 2]]},
   "legend": {"orient": "none", "legendX": 12, "legendY": 4, "title": null, "symbolType": "stroke", "symbolSize": 1849, "symbolStrokeWidth": 2, "clipHeight": 18, "labelFontSize": 10, "labelColor": "#404040", "labelOffset": 8, "labelLimit": 0, "rowPadding": 0}}
 }},
{"data": {"name": "labH"}, "mark": {"type": "text", "color": "#e8383d", "fontSize": 10, "align": "center", "baseline": "middle"}, "encoding": {"text": {"field": "label"}}},
{"data": {"name": "labTune"}, "mark": {"type": "text", "color": "#e8383d", "fontSize": 7, "angle": 270, "align": "center", "baseline": "middle"}, "encoding": {"text": {"field": "label"}}},
{"data": {"name": "labTrouble"}, "mark": {"type": "text", "color": "#d9535f", "fontSize": 7, "angle": 90, "align": "center", "baseline": "middle"}, "encoding": {"text": {"field": "label"}}},
{"data": {"name": "labTest"}, "mark": {"type": "text", "color": "#3a6fb0", "fontSize": 6.5, "angle": 270, "align": "center", "baseline": "middle"}, "encoding": {"text": {"field": "label"}}}
]
}
